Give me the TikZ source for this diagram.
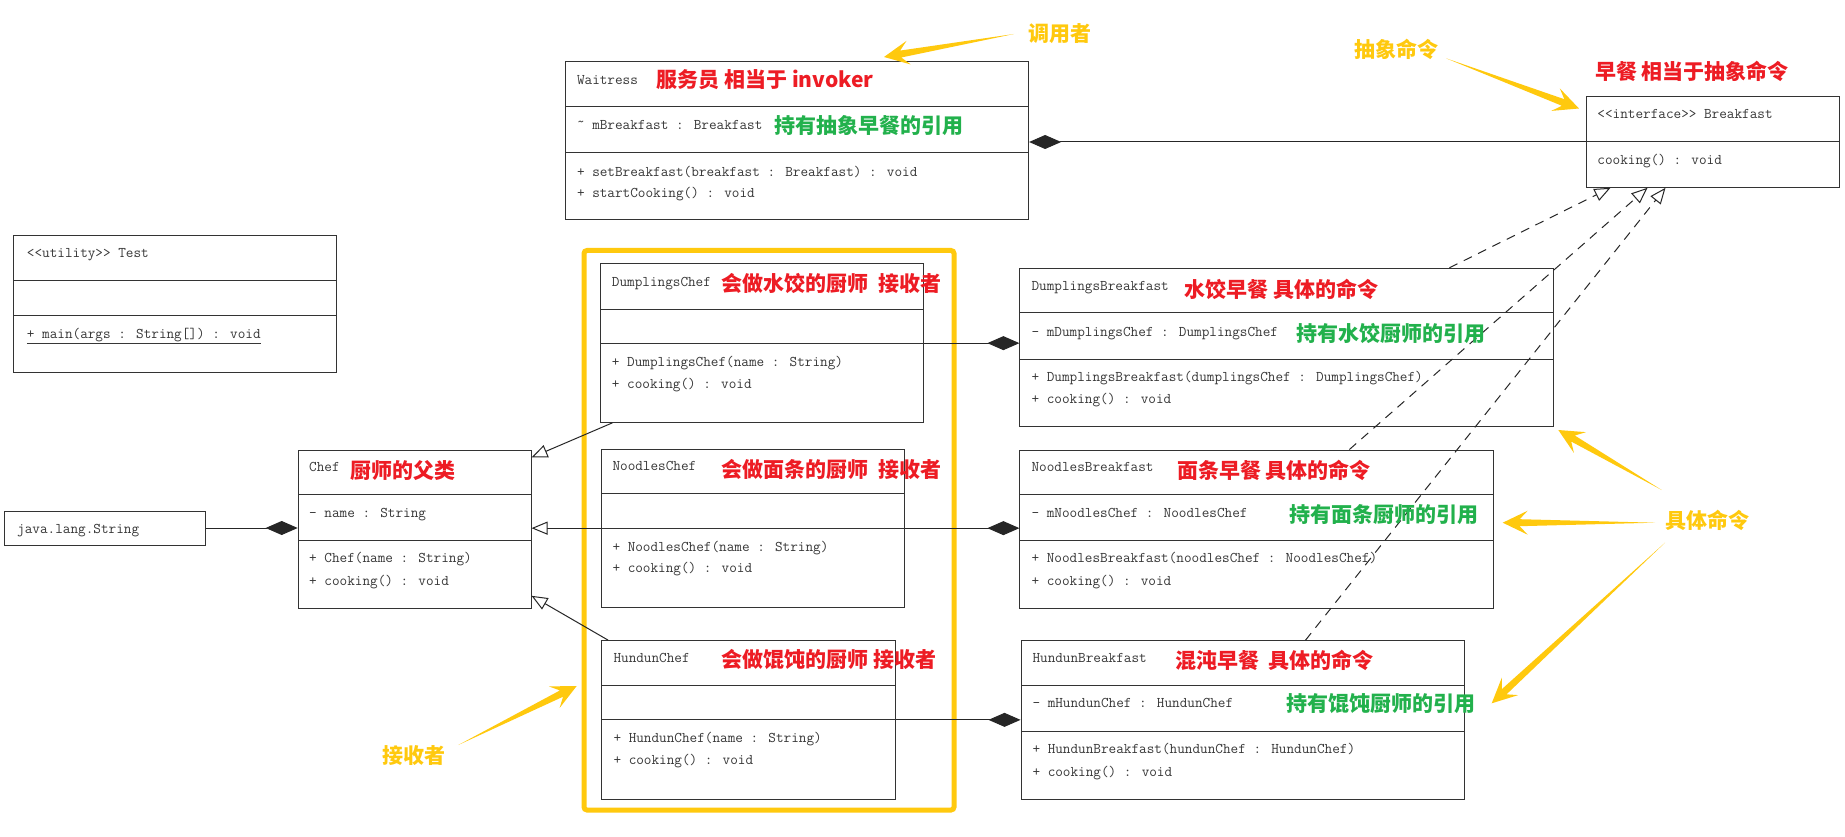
\documentclass[tikz,border=0pt]{standalone}
\usepackage{fontspec}
\newfontfamily\cjk{Noto Sans CJK SC}
\usetikzlibrary{arrows.meta,calc,fit}
\definecolor{gold}{RGB}{255,201,14}
\definecolor{cred}{RGB}{237,28,36}
\definecolor{cgreen}{RGB}{34,177,76}
\definecolor{boxline}{RGB}{51,51,51}
\definecolor{txt}{RGB}{55,55,55}
\tikzset{
 box/.style={draw=boxline, line width=1pt, inner sep=0pt},
 div/.style={draw=boxline, line width=1pt},
 mono/.style={font=\ttfamily\fontsize{14.8}{16}\selectfont, text=txt, anchor=west, inner sep=0pt, text height=10pt, text depth=1pt},
 note/.style={font=\cjk\bfseries\fontsize{21}{21}\selectfont, anchor=west, inner sep=0pt, text height=17pt, text depth=1pt},
 rednote/.style={note, text=cred},
 greennote/.style={note, text=cgreen},
 goldnote/.style={note, text=gold},
 link/.style={draw=black!85, line width=1pt},
 comp/.style={link, {Diamond[length=32pt,width=14pt]}-},
 gen/.style={link, -{Triangle[open,length=16pt,width=13pt,fill=white]}},
 real/.style={link, dash pattern=on 9pt off 7pt, -{Triangle[open,length=16pt,width=13pt,fill=white]}},
}
\newcommand\umlclass[7]{%
 \node[box, fit={(#2,#3) (#4,#5)}] (#1) {};
 \draw[div] (#2,#6) -- (#4,#6);
 \draw[div] (#2,#7) -- (#4,#7);
}
\newcommand\fatarrow[2]{%
 \path ($(#2)!25pt!(#1)$) coordinate (fa-b) ($(#2)!17pt!(#1)$) coordinate (fa-n);
 \fill[gold] (#1) -- ($(fa-n)!3.5pt!90:(#2)$) -- ($(fa-b)!12pt!90:(#2)$) -- (#2)
   -- ($(fa-b)!12pt!-90:(#2)$) -- ($(fa-n)!3.5pt!-90:(#2)$) -- cycle;
}
\begin{document}
\begin{tikzpicture}[x=1pt,y=-1pt]
\fill[white] (0,0) rectangle (1845,837);
\useasboundingbox (0,0) rectangle (1845,837);

% receiver frame
\node[fit={(584,250.5) (954,810)}, inner sep=0pt, draw=gold, line width=5pt, rounded corners=3pt] (recv) {};

% classes
\umlclass{test}{13.3}{235.7}{336.7}{372.3}{280.7}{315}
\node[box, fit={(4.3,511) (205.4,545)}] (str) {};
\umlclass{chef}{298.2}{450}{531}{608.3}{494.3}{540}
\umlclass{dc}{600}{264}{923.3}{422.3}{309}{343.3}
\umlclass{nc}{601}{449}{904}{607.3}{493.3}{528.3}
\umlclass{hc}{601.7}{640.7}{895}{799}{685}{719.3}
\umlclass{wait}{565}{62}{1028.6}{220}{106.7}{152.7}
\node[box, fit={(1586,96.7) (1839.8,187.3)}] (bf) {};
\draw[div] (1586,141.7) -- (1839.8,141.7);
\umlclass{db}{1019.9}{268.3}{1553.8}{426.7}{312.7}{359}
\umlclass{nb}{1019.9}{450}{1493.7}{608.3}{494.3}{540}
\umlclass{hb}{1021}{640.7}{1464.3}{799}{685}{731}

% connectors
\draw[comp] (chef.west |- str.east) -- (str.east);
\draw[comp] (wait.east |- bf.west) -- (bf.west);
\draw[comp] (db.west |- dc.east) -- (dc.east);
\draw[comp] (nb.west |- nc.east) -- (nc.east);
\draw[comp] (hb.west |- hc.east) -- (hc.east);
\draw[gen] (nc.west) -- (chef.east |- nc.west);
\draw[gen] ($(dc.south west)+(13,0)$) -- ($(chef.north east)+(0,8)$);
\draw[gen] ($(hc.north west)+(7,0)$) -- ($(chef.south east)+(0,-13)$);
\draw[real] ($(db.north west)+(430,0)$) -- ($(bf.south west)+(25,0)$);
\draw[real] ($(nb.north west)+(330,0)$) -- ($(bf.south west)+(62,0)$);
\draw[real] ($(hb.north west)+(285,0)$) -- ($(bf.south west)+(80,0)$);

% Test
\node[mono] (test-t) at (26.7,253.3) {<<utility>> Test};
\node[mono] (test-m) at (26.7,334.3) {\underline{+ main(args : String[]) : void}};
% String
\node[mono] (str-t) at (17,529) {java.lang.String};
% Chef
\node[mono] (chef-t) at (309,466.7) {Chef};
\node[rednote] (chef-n) at (350,470.7) {厨师的父类};
\node[mono] (chef-a) at (309,513.3) {- name : String};
\node[mono] (chef-m1) at (309,558.3) {+ Chef(name : String)};
\node[mono] (chef-m2) at (309,581) {+ cooking() : void};
% DumplingsChef
\node[mono] (dc-t) at (611.7,281.7) {DumplingsChef};
\node[rednote] (dc-n) at (721.7,283.3) {会做水饺的厨师\ \ 接收者};
\node[mono] (dc-m1) at (611.7,361.7) {+ DumplingsChef(name : String)};
\node[mono] (dc-m2) at (611.7,384) {+ cooking() : void};
% NoodlesChef
\node[mono] (nc-t) at (612.3,466) {NoodlesChef};
\node[rednote] (nc-n) at (721.7,469.3) {会做面条的厨师\ \ 接收者};
\node[mono] (nc-m1) at (612.3,546.7) {+ NoodlesChef(name : String)};
\node[mono] (nc-m2) at (612.3,568.3) {+ cooking() : void};
% HundunChef
\node[mono] (hc-t) at (613.3,657.7) {HundunChef};
\node[rednote] (hc-n) at (721.7,659.3) {会做馄饨的厨师 接收者};
\node[mono] (hc-m1) at (613.3,738.3) {+ HundunChef(name : String)};
\node[mono] (hc-m2) at (613.3,760) {+ cooking() : void};
% Waitress
\node[mono] (wait-t) at (576.8,80) {Waitress};
\node[rednote] (wait-n) at (656.4,80) {服务员 相当于 invoker};
\node[mono] (wait-a) at (576.8,125) {\raisebox{3pt}{\textasciitilde} mBreakfast : Breakfast};
\node[greennote] (wait-g) at (774.3,125.7) {持有抽象早餐的引用};
\node[mono] (wait-m1) at (576.8,171.7) {+ setBreakfast(breakfast : Breakfast) : void};
\node[mono] (wait-m2) at (576.8,192.7) {+ startCooking() : void};
% Breakfast
\node[mono] (bf-t) at (1597.2,114) {<<interface>> Breakfast};
\node[mono] (bf-m) at (1597.2,160) {cooking() : void};
\node[rednote] (bf-n) at (1594.8,71.7) {早餐 相当于抽象命令};
% DumplingsBreakfast
\node[mono] (db-t) at (1031.4,286) {DumplingsBreakfast};
\node[rednote] (db-n) at (1184.5,290) {水饺早餐 具体的命令};
\node[mono] (db-a) at (1031.4,331.7) {- mDumplingsChef : DumplingsChef};
\node[greennote] (db-g) at (1296.6,333.3) {持有水饺厨师的引用};
\node[mono] (db-m1) at (1031.4,377.3) {+ DumplingsBreakfast(dumplingsChef : DumplingsChef)};
\node[mono] (db-m2) at (1031.4,399.3) {+ cooking() : void};
% NoodlesBreakfast
\node[mono] (nb-t) at (1031.4,466.7) {NoodlesBreakfast};
\node[rednote] (nb-n) at (1176.8,470) {面条早餐 具体的命令};
\node[mono] (nb-a) at (1031.4,512.7) {- mNoodlesChef : NoodlesChef};
\node[greennote] (nb-g) at (1289,514) {持有面条厨师的引用};
\node[mono] (nb-m1) at (1031.4,558.3) {+ NoodlesBreakfast(noodlesChef : NoodlesChef)};
\node[mono] (nb-m2) at (1031.4,581) {+ cooking() : void};
% HundunBreakfast
\node[mono] (hb-t) at (1032.3,657.7) {HundunBreakfast};
\node[rednote] (hb-n) at (1175,660) {混沌早餐\ \ 具体的命令};
\node[mono] (hb-a) at (1032.3,703.3) {- mHundunChef : HundunChef};
\node[greennote] (hb-g) at (1286.7,703.3) {持有馄饨厨师的引用};
\node[mono] (hb-m1) at (1032.3,749.3) {+ HundunBreakfast(hundunChef : HundunChef)};
\node[mono] (hb-m2) at (1032.3,771.7) {+ cooking() : void};

% gold annotations
\node[goldnote] (lab-inv) at (1028.6,33.3) {调用者};
\coordinate (a1t) at (1014,34);
\coordinate (a1h) at (884,57);
\fatarrow{a1t}{a1h}
\node[goldnote] (lab-abs) at (1353.9,50) {抽象命令};
\coordinate (a2t) at (1446,58.3);
\coordinate (a2h) at (1579,108.5);
\fatarrow{a2t}{a2h}
\node[goldnote] (lab-con) at (1665,520) {具体命令};
\coordinate (a3t) at (1661.7,490);
\coordinate (a3h) at (1558.3,430);
\fatarrow{a3t}{a3h}
\coordinate (a4t) at (1655,522.7);
\coordinate (a4h) at (1502.7,522.7);
\fatarrow{a4t}{a4h}
\coordinate (a5t) at (1665,542.7);
\coordinate (a5h) at (1491.7,703.3);
\fatarrow{a5t}{a5h}
\node[goldnote] (lab-rec) at (382.3,755) {接收者};
\coordinate (a6t) at (458.3,745);
\coordinate (a6h) at (576.7,686);
\fatarrow{a6t}{a6h}
\end{tikzpicture}
\end{document}
